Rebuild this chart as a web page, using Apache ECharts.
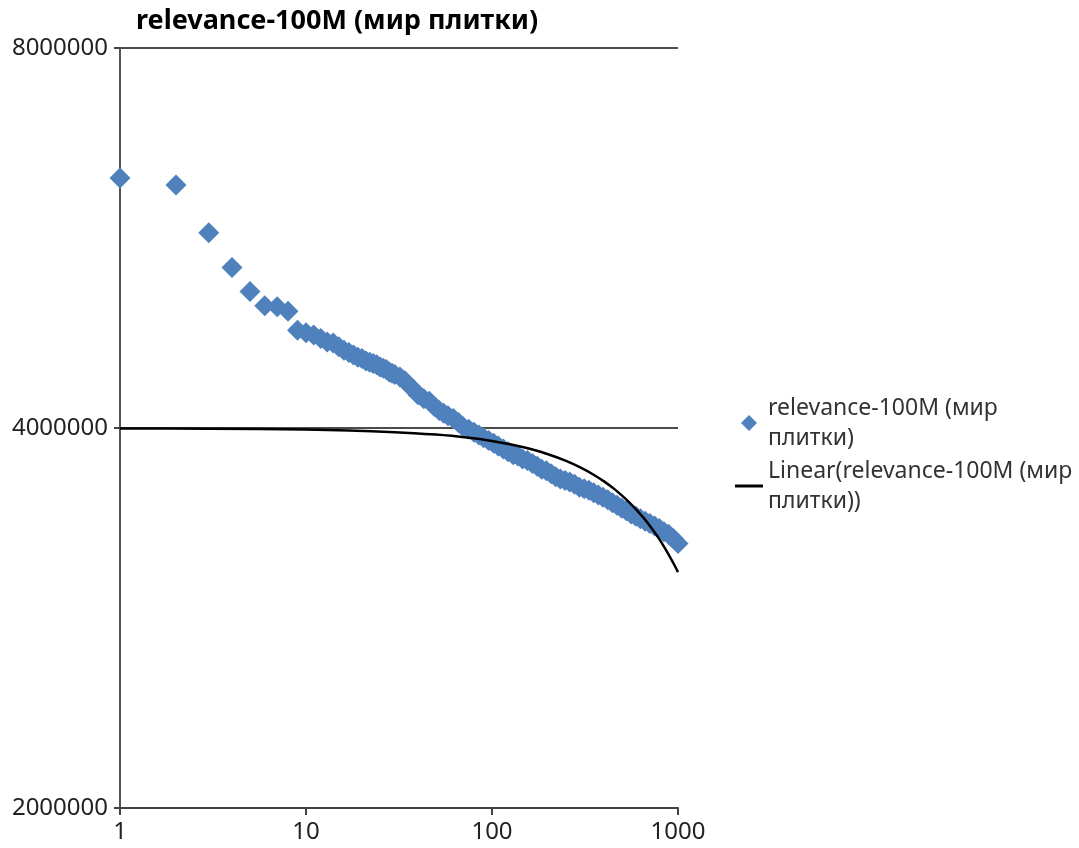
<!DOCTYPE html>
<html>
<head>
<meta charset="utf-8">
<title>relevance-100M (мир плитки)</title>
<script src="https://cdn.jsdelivr.net/npm/echarts@6/dist/echarts.min.js"></script>
<style>
  html, body { margin: 0; padding: 0; background: #fff; }
  #chart { width: 1079px; height: 848px; }
</style>
</head>
<body>
<div id="chart"></div>
<script>
  // rank of the result and its relevance value
  const ranks = [
    1, 2, 3, 4, 5, 6, 7, 8, 9, 10,
    11, 12, 13, 14, 15, 16, 17, 18, 19, 20,
    21, 22, 23, 24, 25, 26, 27, 28, 29, 30,
    32, 34, 36, 38, 40, 43, 46, 49, 52, 55,
    58, 62, 66, 70, 75, 80, 85, 90, 96, 102,
    108, 115, 122, 130, 138, 146, 155, 165, 175, 185,
    196, 208, 220, 233, 247, 262, 278, 295, 313, 332,
    352, 373, 395, 419, 444, 470, 498, 528, 560, 593,
    628, 666, 706, 748, 793, 840, 890, 943, 1000
  ];
  const relevance = [
    6310000, 6230000, 5710000, 5360000, 5130000, 5000000, 4990000, 4950000, 4780000, 4760000,
    4740000, 4710000, 4680000, 4670000, 4640000, 4610000, 4590000, 4570000, 4550000, 4540000,
    4520000, 4510000, 4500000, 4490000, 4470000, 4460000, 4450000, 4430000, 4420000, 4410000,
    4390000, 4360000, 4320000, 4290000, 4250000, 4220000, 4200000, 4160000, 4130000, 4110000,
    4090000, 4070000, 4040000, 4010000, 3990000, 3970000, 3950000, 3930000, 3910000, 3890000,
    3870000, 3850000, 3830000, 3810000, 3800000, 3780000, 3770000, 3750000, 3730000, 3710000,
    3700000, 3680000, 3660000, 3645000, 3635000, 3625000, 3610000, 3590000, 3580000, 3570000,
    3555000, 3540000, 3525000, 3510000, 3490000, 3475000, 3455000, 3440000, 3420000, 3405000,
    3390000, 3375000, 3360000, 3345000, 3330000, 3310000, 3295000, 3270000, 3240000
  ];

  // linear trendline, read at these ranks
  const trendRanks = [1, 3, 10, 30, 50, 75, 100, 150, 200, 250, 300, 350, 400, 450, 500,
    550, 600, 650, 700, 750, 800, 850, 900, 950, 1000];
  const trendValues = [3997000, 3995000, 3989000, 3970000, 3952000, 3929000, 3906000, 3860000,
    3813000, 3767000, 3721000, 3675000, 3629000, 3583000, 3536000, 3490000, 3444000, 3398000,
    3352000, 3306000, 3260000, 3213000, 3167000, 3121000, 3075000];

  const yTicks = [2000000, 4000000, 8000000];

  const seriesName = 'relevance-100M (мир плитки)';
  const trendName = 'Linear(relevance-100M (мир плитки))';

  const font = '"Noto Sans", "DejaVu Sans", sans-serif';

  const chart = echarts.init(document.getElementById('chart'));

  chart.setOption({
    animation: false,
    backgroundColor: '#fff',
    title: {
      text: seriesName,
      left: 131,
      top: 3,
      textStyle: { fontFamily: font, fontSize: 27, fontWeight: 'bold', color: '#000' },
    },
    legend: {
      orient: 'vertical',
      left: 730,
      top: 388,
      itemWidth: 28,
      itemHeight: 16,
      itemGap: 3,
      symbolKeepAspect: true,
      formatter: (name) => name.replace(' (мир ', ' (мир\n'),
      textStyle: { fontFamily: font, fontSize: 23, color: '#333', lineHeight: 30 },
      data: [
        { name: seriesName, icon: 'path://M7,0L14,7L7,14L0,7Z' },
        { name: trendName, icon: 'path://M0,0H28V3H0Z' },
      ],
    },
    grid: { left: 120, right: 401, top: 48, bottom: 40 },
    xAxis: {
      type: 'log',
      logBase: 10,
      min: 1,
      max: 1000,
      axisLine: { lineStyle: { color: '#444', width: 2 } },
      axisTick: { length: 7, lineStyle: { color: '#444', width: 2 } },
      axisLabel: {
        fontFamily: font,
        fontSize: 24,
        color: '#222',
        margin: 12,
        formatter: (v) => String(Math.round(v)),
      },
      splitLine: { show: false },
    },
    yAxis: {
      type: 'log',
      logBase: 2,
      min: 2000000,
      max: 8000000,
      axisLine: { show: true, lineStyle: { color: '#555', width: 2 } },
      axisTick: { show: true, length: 6, customValues: yTicks, lineStyle: { color: '#444', width: 2 } },
      axisLabel: {
        fontFamily: font,
        fontSize: 24,
        color: '#222',
        margin: 12,
        customValues: yTicks,
        formatter: (v) => String(Math.round(v)),
      },
      splitLine: { show: true, lineStyle: { color: '#111', width: 1.5 } },
    },
    series: [
      {
        name: seriesName,
        type: 'scatter',
        symbol: 'diamond',
        symbolSize: 21,
        itemStyle: { color: '#4F81BD', opacity: 1 },
        data: ranks.map((r, i) => [r, relevance[i]]),
        z: 2,
      },
      {
        name: trendName,
        type: 'line',
        showSymbol: false,
        symbol: 'none',
        smooth: 0.3,
        lineStyle: { color: '#000', width: 2.5 },
        itemStyle: { color: '#000' },
        data: trendRanks.map((r, i) => [r, trendValues[i]]),
        z: 3,
      },
    ],
  });
</script>
</body>
</html>
